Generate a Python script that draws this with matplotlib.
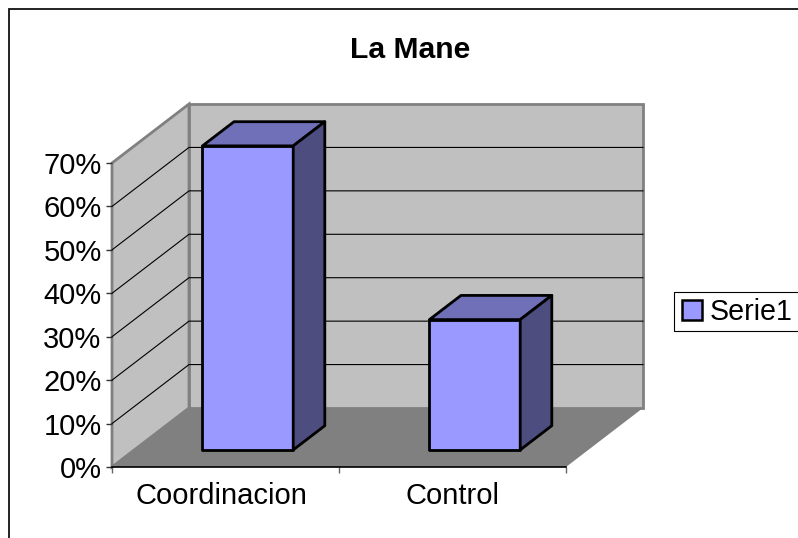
import matplotlib
matplotlib.use("Agg")
import matplotlib.pyplot as plt
from matplotlib.patches import Polygon, Rectangle, Patch
from matplotlib.legend_handler import HandlerPatch
from matplotlib.transforms import ScaledTranslation

plt.rcParams['font.family'] = ['Liberation Sans', 'DejaVu Sans']

# Data
title = "La Mane"
categories = ["Coordinacion", "Control"]
values = [70, 30]
series_name = "Serie1"
y_ticks = [0, 10, 20, 30, 40, 50, 60, 70]

# Style
W, H = 798, 538
FRONT, TOP, SIDE = "#9999FF", "#7070B8", "#4D4D80"
WALL, FLOOR, WALL_EDGE = "#C0C0C0", "#808080", "#808080"
FS = 21
BAR_W = 0.4
Z0, Z1 = 0.29, 0.70   # bar extent in depth

fig = plt.figure(figsize=(W / 100, H / 100), dpi=100, facecolor="white")
ax = fig.add_axes([112 / W, 1 - 467 / H, 454 / W, 304 / H])
ax.set_xlim(0, len(categories))
ax.set_ylim(0, 70)
ax.patch.set_visible(False)

DX = 77 / 227      # category units per unit depth
DY = 59 / (304 / 70)  # value units per unit depth
XMAX, VMAX = len(categories), y_ticks[-1]


def P(x, z, v):
    return (x + z * DX, v + z * DY)


def poly(pts, **kw):
    kw.setdefault("clip_on", False)
    ax.add_patch(Polygon([P(*p) for p in pts], closed=True, **kw))


# walls and floor
poly([(0, 0, 0), (0, 1, 0), (0, 1, VMAX), (0, 0, VMAX)], fc=WALL, ec=WALL_EDGE, lw=2, zorder=1)
poly([(0, 1, 0), (XMAX, 1, 0), (XMAX, 1, VMAX), (0, 1, VMAX)], fc=WALL, ec=WALL_EDGE, lw=2, zorder=1)
poly([(0, 0, 0), (XMAX, 0, 0), (XMAX, 1, 0), (0, 1, 0)], fc=FLOOR, ec="none", zorder=2)

# gridlines
for v in y_ticks[1:-1]:
    pts = [P(0, 0, v), P(0, 1, v), P(XMAX, 1, v)]
    ax.plot(*zip(*pts), color="black", lw=0.8, zorder=3, clip_on=False)

# bars
for i, val in enumerate(values):
    x0, x1 = i + 0.5 - BAR_W / 2, i + 0.5 + BAR_W / 2
    style = dict(ec="black", lw=2, joinstyle="round", zorder=5)
    poly([(x0, Z0, 0), (x1, Z0, 0), (x1, Z0, val), (x0, Z0, val)], fc=FRONT, **style)
    poly([(x0, Z0, val), (x1, Z0, val), (x1, Z1, val), (x0, Z1, val)], fc=TOP, **style)
    poly([(x1, Z0, 0), (x1, Z1, 0), (x1, Z1, val), (x1, Z0, val)], fc=SIDE, **style)

# axes
for s in ("top", "right", "left"):
    ax.spines[s].set_visible(False)
ax.spines["bottom"].set_color("black")
ax.spines["bottom"].set_linewidth(1.2)
ax.spines["bottom"].set_zorder(4)
ax.set_yticks(y_ticks)
ax.set_yticklabels([f"{v}%" for v in y_ticks], fontsize=FS)
ax.tick_params(axis="y", length=4, width=1, pad=3.5, color="#333333")
ax.set_xticks(range(len(categories) + 1))
ax.set_xticklabels([])
ax.tick_params(axis="x", which="major", length=4, width=1, color="#666666")
ax.set_xticks([i + 0.5 for i in range(len(categories))], minor=True)
ax.set_xticklabels(categories, minor=True, fontsize=FS)
ax.tick_params(axis="x", which="minor", length=0, pad=11)
first = ax.get_xticklabels(minor=True)[0]
first.set_transform(first.get_transform() + ScaledTranslation(-4 / 100, 0, fig.dpi_scale_trans))

# title
fig.text(410 / W, 1 - 50 / H, title, ha="center", va="center", fontsize=21.7, fontweight="bold")

# outer chart border, open beyond the image
fig.add_artist(Rectangle((9 / W, -0.1), 1.1, 1.1 - 9 / H, transform=fig.transFigure,
                         fc="none", ec="#111111", lw=1.3, zorder=0))


# legend: the swatch sits a little in from the frame's left edge
def inset_swatch(legend, orig_handle, xdescent, ydescent, width, height, fontsize):
    off = 1.66
    return Rectangle((-xdescent + off, -ydescent), width - off, height)


proxy = Patch(fc=FRONT, ec="black", lw=1.8, label=series_name)
leg = fig.legend(handles=[proxy],
                 handler_map={proxy: HandlerPatch(patch_func=inset_swatch)},
                 loc="upper left", bbox_to_anchor=(674 / W, 1 - 292 / H),
                 bbox_transform=fig.transFigure, borderaxespad=0, fontsize=20.6,
                 fancybox=False, edgecolor="black", framealpha=1,
                 handlelength=0.78, handleheight=0.7, handletextpad=0.28,
                 borderpad=0.2)
leg.get_frame().set_linewidth(0.8)

fig.savefig("out.png", dpi=100)
